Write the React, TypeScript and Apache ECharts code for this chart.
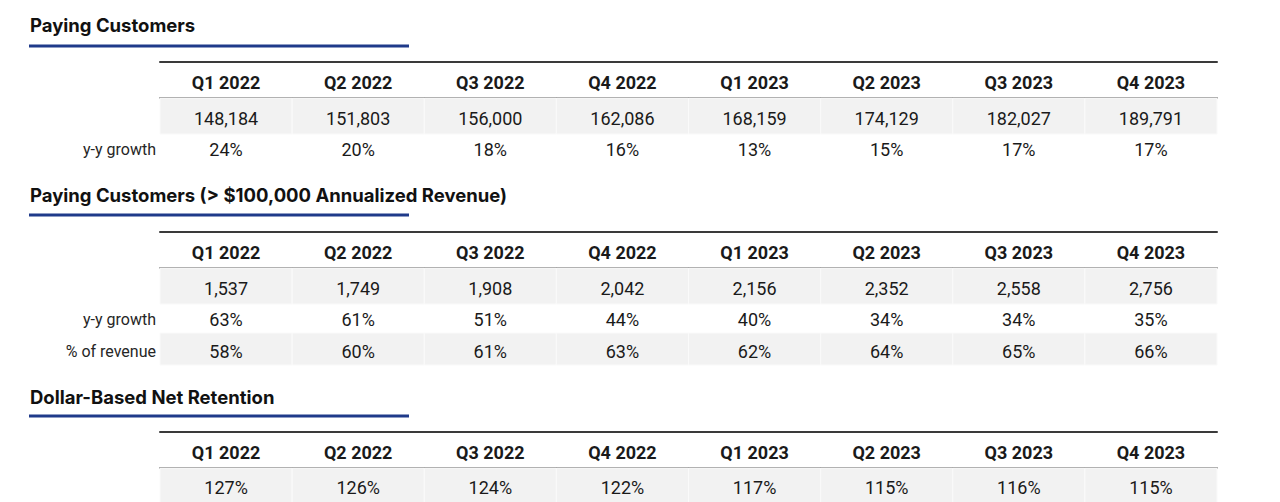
import React, { useEffect, useRef } from "react";
import * as echarts from "echarts";

// ---- data ----
const quarters = ["Q1 2022", "Q2 2022", "Q3 2022", "Q4 2022", "Q1 2023", "Q2 2023", "Q3 2023", "Q4 2023"];
const sectionTitles = [
  "Paying Customers",
  "Paying Customers (> $100,000 Annualized Revenue)",
  "Dollar-Based Net Retention",
];
const payingCustomers = [148184, 151803, 156000, 162086, 168159, 174129, 182027, 189791];
const payingGrowth = [24, 20, 18, 16, 13, 15, 17, 17];
const largeCustomers = [1537, 1749, 1908, 2042, 2156, 2352, 2558, 2756];
const largeGrowth = [63, 61, 51, 44, 40, 34, 34, 35];
const largeRevenueShare = [58, 60, 61, 63, 62, 64, 65, 66];
const netRetention = [127, 126, 124, 122, 117, 115, 116, 115];

const rowLabels1 = ["", "y-y growth"];
const rowLabels2 = ["", "y-y growth", "% of revenue"];
const rowLabels3 = [""];

type Fmt = "int" | "pct";
const sections: { rows: number[][]; labels: string[]; formats: Fmt[] }[] = [
  { rows: [payingCustomers, payingGrowth], labels: rowLabels1, formats: ["int", "pct"] },
  { rows: [largeCustomers, largeGrowth, largeRevenueShare], labels: rowLabels2, formats: ["int", "pct", "pct"] },
  { rows: [netRetention], labels: rowLabels3, formats: ["pct"] },
];

// ---- layout ----
const tableTops = [62, 232, 432];
const titleYs = [25, 195, 397];
const underlineYs = [46, 215, 416];
const gridHeights = [64, 96, 34];
const firstRowShift = [4, 4, 2];
const TEXT = "#1a1a1a";
const LINE = "#3a3a3a";
const NAVY = "#1f3a8a";

export default function App() {
  const ref = useRef<HTMLDivElement>(null);
  useEffect(() => {
    if (!ref.current) return;
    const chart = echarts.init(ref.current, undefined, { renderer: "svg" });

    const grids: any[] = [];
    const xAxes: any[] = [];
    const yAxes: any[] = [];
    const series: any[] = [];

    sections.forEach((sec, si) => {
      const gridTop = tableTops[si] + 36;
      grids.push({ left: 160, right: 63, top: gridTop, height: gridHeights[si] });
      xAxes.push({
        type: "category",
        gridIndex: si,
        data: quarters,
        position: "top",
        axisLine: { show: true, onZero: false, lineStyle: { color: LINE, width: 1.5 } },
        axisTick: { show: false },
        splitLine: { show: false },
        axisLabel: {
          interval: 0,
          margin: 5,
          lineHeight: 22,
          fontSize: 18,
          fontWeight: "bold",
          fontFamily: "Roboto",
          color: TEXT,
        },
      });
      xAxes.push({
        type: "category",
        gridIndex: si,
        data: quarters,
        position: "top",
        offset: 36,
        axisLine: { show: true, onZero: false, lineStyle: { color: LINE, width: 2 } },
        axisTick: { show: false },
        splitLine: { show: false },
        axisLabel: { show: false },
      });
      yAxes.push({
        type: "category",
        gridIndex: si,
        data: sec.labels,
        inverse: true,
        axisLine: { show: false },
        axisTick: { show: false },
        splitLine: { show: false },
        axisLabel: { show: false },
      });
      const data: number[][] = [];
      sec.rows.forEach((vals, ri) => vals.forEach((v, ci) => data.push([ci, ri, v])));
      const formats = sec.formats;
      const labels = sec.labels;
      const shift0 = firstRowShift[si];
      series.push({
        type: "custom",
        coordinateSystem: "cartesian2d",
        xAxisIndex: si * 2,
        yAxisIndex: si,
        data,
        silent: true,
        renderItem: (params: any, api: any) => {
          const ci = api.value(0);
          const ri = api.value(1);
          const v = api.value(2);
          const c = api.coord([ci, ri]);
          const s = api.size([1, 1]);
          const text = formats[ri] === "int" ? Number(v).toLocaleString("en-US") : v + "%";
          const ty = c[1] + (ri === 0 ? shift0 : 3);
          const children: any[] = [];
          if (ri % 2 === 0) {
            children.push({
              type: "rect",
              shape: { x: c[0] - s[0] / 2, y: c[1] - s[1] / 2 + (ri === 0 ? 0 : 1), width: s[0], height: s[1] + (ri === 0 ? 4 : 0) },
              style: { fill: "#f2f2f2", stroke: "#fafafa", lineWidth: 1 },
            });
          }
          children.push({
            type: "text",
            style: {
              text,
              x: c[0],
              y: ty,
              align: "center",
              verticalAlign: "middle",
              textAlign: "center",
              textVerticalAlign: "middle",
              fill: TEXT,
              font: "18px Roboto",
            },
          });
          if (ci === 0 && labels[ri]) {
            children.push({
              type: "text",
              style: {
                text: labels[ri],
                x: c[0] - s[0] / 2 - 4,
                y: ty,
                align: "right",
                verticalAlign: "middle",
                textAlign: "right",
                textVerticalAlign: "middle",
                fill: "#262626",
                font: "16px Roboto",
              },
            });
          }
          return { type: "group", children };
        },
      });
    });

    const graphic: any[] = [];
    sectionTitles.forEach((t, i) => {
      graphic.push({
        type: "text",
        left: 30,
        top: titleYs[i] - 10,
        style: { text: t, font: "bold 18.5px Inter", fill: "#111" },
      });
      graphic.push({
        type: "rect",
        shape: { x: 29, y: underlineYs[i] - 1.5, width: 380, height: 3 },
        style: { fill: NAVY },
      });
    });

    chart.setOption({
      animation: false,
      grid: grids,
      xAxis: xAxes,
      yAxis: yAxes,
      series,
      graphic,
    });
    return () => chart.dispose();
  }, []);
  return <div ref={ref} style={{ position: "fixed", left: 0, top: 0, width: 1280, height: 502, background: "#fff" }} />;
}
